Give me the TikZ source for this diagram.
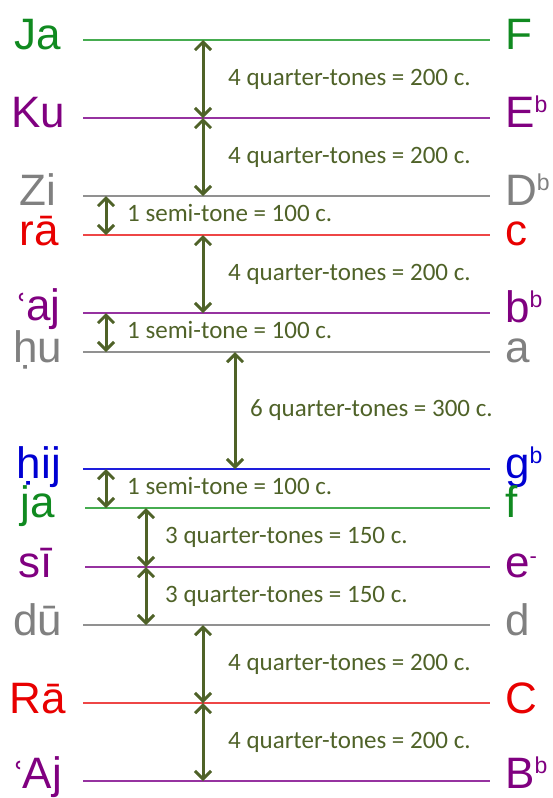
\documentclass[tikz,border=0pt]{standalone}
\usepackage{fontspec}
\setmainfont{Liberation Sans}
\newfontfamily\calfont{Carlito}
\newfontfamily\djvfont{DejaVu Sans}
\usetikzlibrary{arrows.meta}
\definecolor{tgreen}{RGB}{16,138,32}
\definecolor{lgreen}{RGB}{70,172,80}
\definecolor{tpurple}{RGB}{128,0,128}
\definecolor{lpurple}{RGB}{150,50,160}
\definecolor{tgray}{RGB}{128,128,128}
\definecolor{lgray}{RGB}{145,145,145}
\definecolor{tred}{RGB}{232,0,0}
\definecolor{lred}{RGB}{238,70,70}
\definecolor{tblue}{RGB}{0,0,210}
\definecolor{lblue}{RGB}{30,30,220}
\definecolor{olivec}{RGB}{79,98,40}
\newcommand\mysup[1]{\raisebox{15pt}{\fontsize{23}{23}\selectfont #1}}
\newcommand\ain{\raisebox{3pt}{\djvfont\fontsize{32}{32}\selectfont ʿ}\kern-1pt}
\begin{document}
\begin{tikzpicture}[x=1pt,y=1pt,
  lab/.style={inner sep=0pt,font=\fontsize{44}{44}\selectfont},
  llab/.style={lab,anchor=base},
  rlab/.style={lab,anchor=base west},
  lvl/.style={line width=2pt},
  tipa/.tip={Straight Barb[length=8pt,width=16pt]},
  iv/.style={olivec,line width=3pt,tipa-tipa},
  ivt/.style={olivec,inner sep=0pt,anchor=base west,font=\calfont\fontsize{25}{25}\selectfont}]
\useasboundingbox (0,0) rectangle (553,-798);
% x positions of interval arrows
\coordinate (x200) at (203,0);
\coordinate (x300) at (235,0);
\coordinate (x100) at (106,0);
\coordinate (x150) at (146,0);
% level lines
\draw[lvl,lgreen]  (83,-40)  coordinate (a1)  -- (490,-40)  coordinate (b1);
\draw[lvl,lpurple] (83,-118) coordinate (a2)  -- (490,-118) coordinate (b2);
\draw[lvl,lgray]   (83,-196) coordinate (a3)  -- (490,-196) coordinate (b3);
\draw[lvl,lred]    (83,-235) coordinate (a4)  -- (490,-235) coordinate (b4);
\draw[lvl,lpurple] (83,-313) coordinate (a5)  -- (490,-313) coordinate (b5);
\draw[lvl,lgray]   (83,-352) coordinate (a6)  -- (490,-352) coordinate (b6);
\draw[lvl,lblue]   (83,-469) coordinate (a7)  -- (490,-469) coordinate (b7);
\draw[lvl,lgreen]  (85,-508) coordinate (a8)  -- (490,-508) coordinate (b8);
\draw[lvl,lpurple] (85,-567) coordinate (a9)  -- (490,-567) coordinate (b9);
\draw[lvl,lgray]   (83,-625) coordinate (a10) -- (490,-625) coordinate (b10);
\draw[lvl,lred]    (83,-703) coordinate (a11) -- (490,-703) coordinate (b11);
\draw[lvl,lpurple] (83,-781) coordinate (a12) -- (490,-781) coordinate (b12);
% left labels
\node[llab,tgreen]  (L1)  at (38,-49)  {Ja};
\node[llab,tpurple] (L2)  at (38,-127) {Ku};
\node[llab,tgray]   (L3)  at (38,-205) {Zi};
\node[llab,tred]    (L4)  at (39,-245) {rā};
\node[llab,tpurple] (L5)  at (39,-320) {\ain aj};
\node[llab,tgray]   (L6)  at (38,-362) {ḥu};
\node[llab,tblue]   (L7)  at (39,-478) {ḥij};
\node[llab,tgreen]  (L8)  at (38,-517) {ja};
\node[llab,tpurple] (L9)  at (36,-577) {sī};
\node[llab,tgray]   (L10) at (38,-635) {dū};
\node[llab,tred]    (L11) at (38,-713) {Rā};
\node[llab,tpurple] (L12) at (38,-788) {\ain Aj};
% right labels
\node[rlab,tgreen]  (R1)  at (505,-49)  {F};
\node[rlab,tpurple] (R2)  at (505,-127) {E\mysup{b}};
\node[rlab,tgray]   (R3)  at (505,-205) {D\mysup{b}};
\node[rlab,tred]    (R4)  at (505,-245) {c};
\node[rlab,tpurple] (R5)  at (505,-322) {b\mysup{b}};
\node[rlab,tgray]   (R6)  at (505,-362) {a};
\node[rlab,tblue]   (R7)  at (505,-478) {g\mysup{b}};
\node[rlab,tgreen]  (R8)  at (505,-517) {f};
\node[rlab,tpurple] (R9)  at (505,-577) {e\raisebox{14pt}{\fontsize{22}{22}\selectfont -}};
\node[rlab,tgray]   (R10) at (505,-635) {d};
\node[rlab,tred]    (R11) at (505,-713) {C};
\node[rlab,tpurple] (R12) at (505,-788) {B\mysup{b}};
% interval arrows
\draw[iv] (x200 |- a1)  -- (x200 |- a2);
\draw[iv] (x200 |- a2)  -- (x200 |- a3);
\draw[iv] (x100 |- a3)  -- (x100 |- a4);
\draw[iv] (x200 |- a4)  -- (x200 |- a5);
\draw[iv] (x100 |- a5)  -- (x100 |- a6);
\draw[iv] (x300 |- a6)  -- (x300 |- a7);
\draw[iv] (x100 |- a7)  -- (x100 |- a8);
\draw[iv] (x150 |- a8)  -- (x150 |- a9);
\draw[iv] (x150 |- a9)  -- (x150 |- a10);
\draw[iv] (x200 |- a10) -- (x200 |- a11);
\draw[iv] (x200 |- a11) -- (x200 |- a12);
% interval texts
\node[ivt] (T1)  at (228,-85)   {4 quarter-tones = 200 c.};
\node[ivt] (T2)  at (228,-163)  {4 quarter-tones = 200 c.};
\node[ivt] (T3)  at (127,-221.5){1 semi-tone = 100 c.};
\node[ivt] (T4)  at (228,-280)  {4 quarter-tones = 200 c.};
\node[ivt] (T5)  at (127,-338.5){1 semi-tone = 100 c.};
\node[ivt] (T6)  at (250,-416.5){6 quarter-tones = 300 c.};
\node[ivt] (T7)  at (127,-494.5){1 semi-tone = 100 c.};
\node[ivt] (T8)  at (165,-543.5){3 quarter-tones = 150 c.};
\node[ivt] (T9)  at (165,-602)  {3 quarter-tones = 150 c.};
\node[ivt] (T10) at (228,-670)  {4 quarter-tones = 200 c.};
\node[ivt] (T11) at (228,-748)  {4 quarter-tones = 200 c.};
\end{tikzpicture}
\end{document}
